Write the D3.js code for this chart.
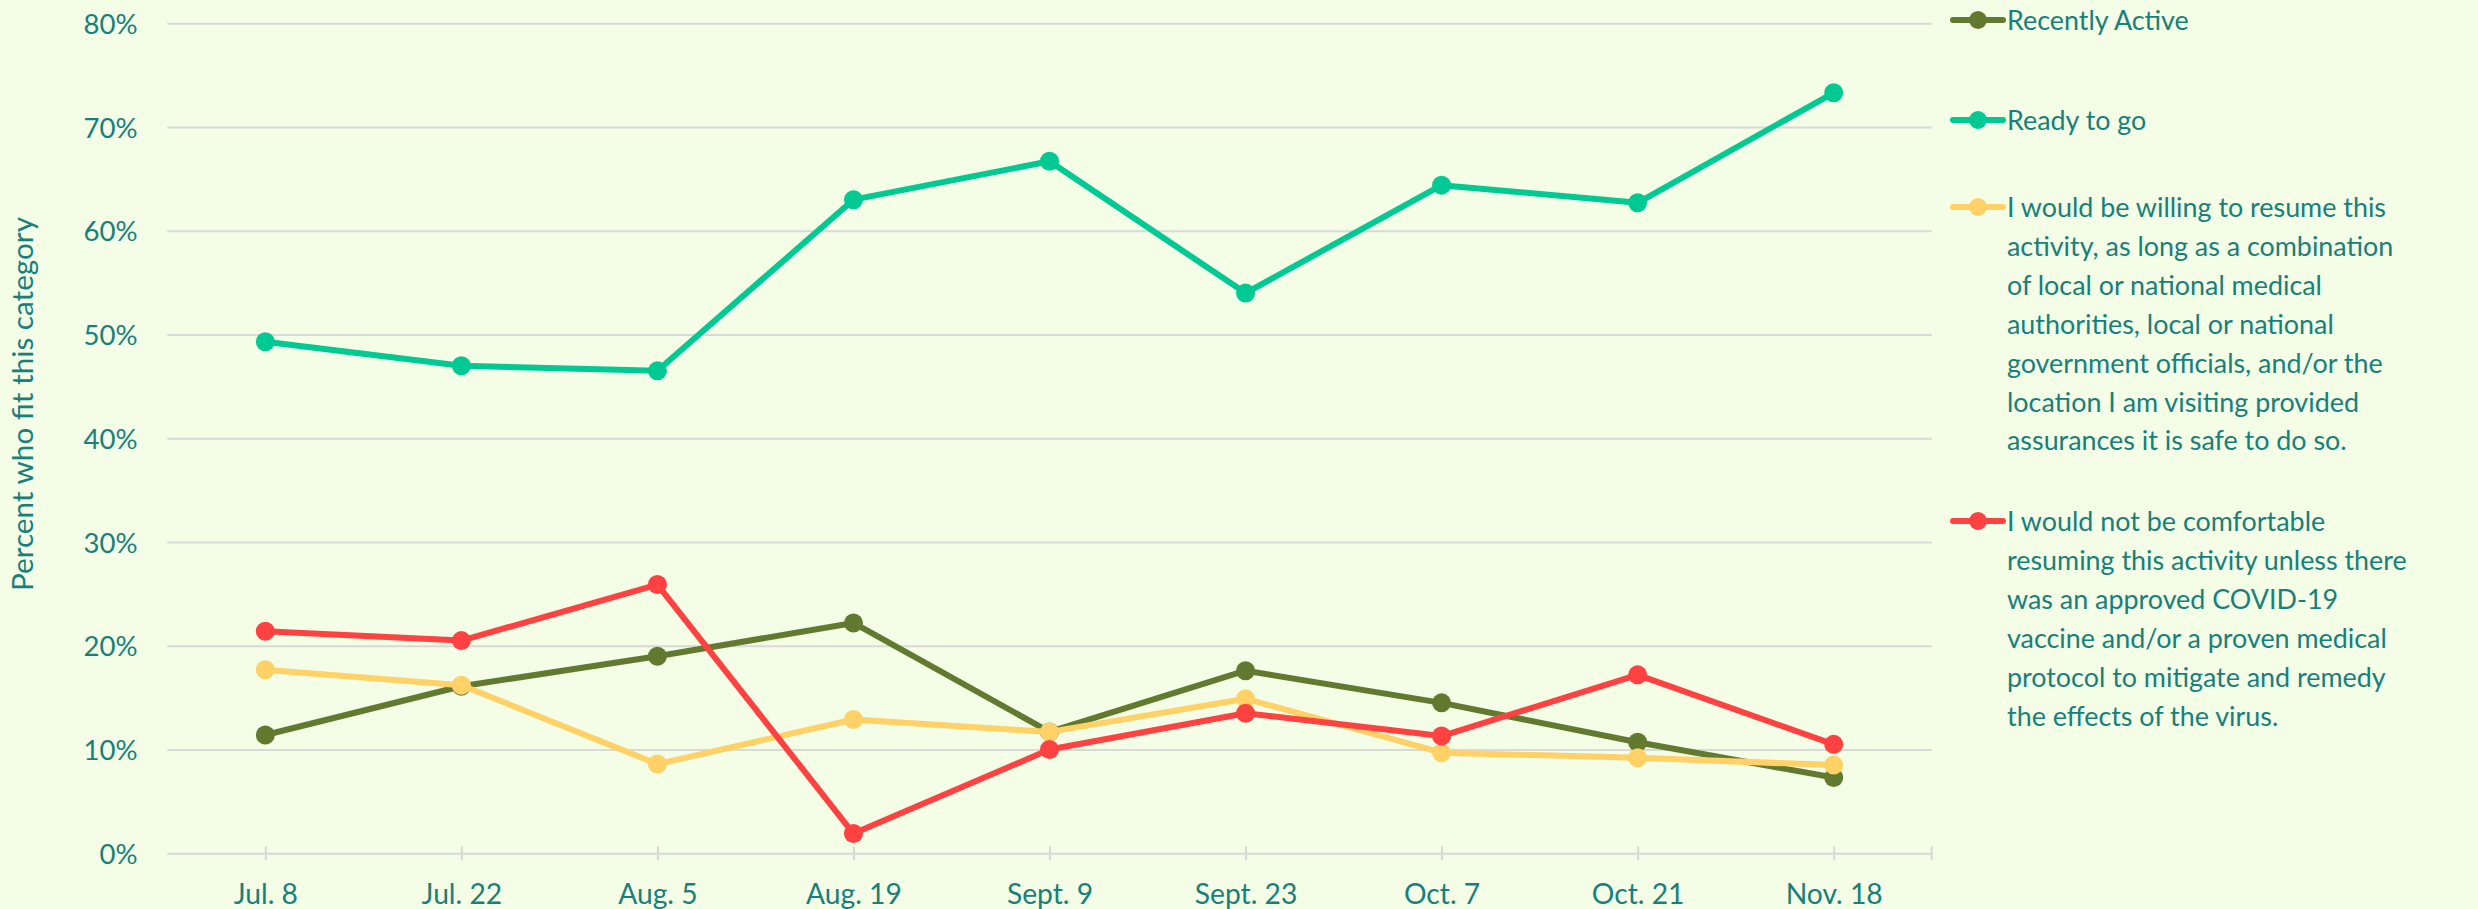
<!DOCTYPE html>
<html>
<head>
<meta charset="utf-8">
<script src="https://cdn.jsdelivr.net/npm/d3@7"></script>
<style>
  html, body { margin: 0; padding: 0; background: #f4fde5; }
  svg { display: block; }
</style>
</head>
<body>
<svg id="chart" width="2478" height="909"></svg>
<script>
// ---- data ----
const categories = ["Jul. 8", "Jul. 22", "Aug. 5", "Aug. 19", "Sept. 9", "Sept. 23", "Oct. 7", "Oct. 21", "Nov. 18"];
const recentlyActive = [11.4, 16.1, 19.0, 22.2, 11.7, 17.6, 14.5, 10.7, 7.3];
const readyToGo      = [49.3, 47.0, 46.5, 63.0, 66.7, 54.0, 64.4, 62.7, 73.3];
const willingIfSafe  = [17.7, 16.2, 8.6, 12.9, 11.7, 14.9, 9.7, 9.2, 8.5];
const notComfortable = [21.4, 20.5, 25.9, 1.9, 10.0, 13.5, 11.3, 17.2, 10.5];
const yTicks = [0, 10, 20, 30, 40, 50, 60, 70, 80];
const seriesNames = [
  "Recently Active",
  "Ready to go",
  "I would be willing to resume this activity, as long as a combination of local or national medical authorities, local or national government officials, and/or the location I am visiting provided assurances it is safe to do so.",
  "I would not be comfortable resuming this activity unless there was an approved COVID-19 vaccine and/or a proven medical protocol to mitigate and remedy the effects of the virus."
];
const legendLines = [
  ["Recently Active"],
  ["Ready to go"],
  ["I would be willing to resume this", "activity, as long as a combination", "of local or national medical", "authorities, local or national", "government officials, and/or the", "location I am visiting provided", "assurances it is safe to do so."],
  ["I would not be comfortable", "resuming this activity unless there", "was an approved COVID-19", "vaccine and/or a proven medical", "protocol to mitigate and remedy", "the effects of the virus."]
];
const seriesColors = ["#627a2f", "#00c994", "#ffd166", "#fe4242"];
const yTitle = "Percent who fit this category";

(function () {
// ---- setup ----
const FONT = "Lato, 'Open Sans', sans-serif";
const TEXT = "#17807a";
const GRID = "#d9d9d9";
const svg = d3.select("#chart");
svg.append("rect").attr("width", 2478).attr("height", 909).attr("fill", "#f4fde5");

function fitSize(str, target) {
  const t = svg.append("text").attr("font-family", FONT).attr("font-size", 100).text(str);
  const w = t.node().getComputedTextLength();
  t.remove();
  return 100 * target / w;
}
const tickFS = fitSize("80%", 54);
const xFS = fitSize("Nov. 18", 97);
const legFS = fitSize("resuming this activity unless there", 400);
const titleFS = fitSize(yTitle, 374);

const pL = 167.3, pR = 1931.7, pT = 23.3, pB = 853.3;
const x = d3.scalePoint().domain(categories).range([pL, pR]).padding(0.5);
const y = d3.scaleLinear().domain([0, 80]).range([pB, pT]);

// gridlines + y labels
const gy = svg.append("g").attr("class", "y-axis")
  .attr("transform", `translate(${pL},0)`)
  .call(d3.axisLeft(y).tickValues(yTicks).tickFormat(d => d + "%").tickSize(-(pR - pL)).tickPadding(30));
gy.select(".domain").remove();
gy.selectAll(".tick line").attr("stroke", GRID).attr("stroke-width", 2);
gy.selectAll(".tick text")
  .attr("fill", TEXT).attr("font-family", FONT).attr("font-size", tickFS)
  .attr("x", 137.5 - pL).attr("dy", null).attr("y", 10)
  .attr("text-anchor", "end");

// x axis
const gx = svg.append("g").attr("class", "x-axis")
  .attr("transform", `translate(0,${pB})`)
  .call(d3.axisBottom(x).tickSize(7).tickPadding(0));
gx.select(".domain").remove();
gx.selectAll(".tick line").attr("stroke", GRID).attr("stroke-width", 2).attr("y1", -7).attr("y2", 7);
gx.selectAll(".tick text")
  .attr("fill", TEXT).attr("font-family", FONT).attr("font-size", xFS)
  .attr("y", 904 - pB).attr("dy", null);
gx.append("line").attr("x1", pR).attr("x2", pR).attr("y1", -7).attr("y2", 7)
  .attr("stroke", GRID).attr("stroke-width", 2);

// y title
svg.append("text")
  .attr("transform", "translate(32.5,404) rotate(-90)")
  .attr("text-anchor", "middle")
  .attr("fill", TEXT).attr("font-family", FONT).attr("font-size", titleFS)
  .text(yTitle);

// series
const allSeries = [recentlyActive, readyToGo, willingIfSafe, notComfortable];
const line = d3.line().x((d, i) => x(categories[i])).y(d => y(d));
allSeries.forEach((vals, si) => {
  const g = svg.append("g").attr("class", "series");
  g.append("path").datum(vals).attr("d", line)
    .attr("fill", "none").attr("stroke", seriesColors[si]).attr("stroke-width", 6)
    .attr("stroke-linejoin", "round");
  g.selectAll("circle").data(vals).join("circle")
    .attr("cx", (d, i) => x(categories[i])).attr("cy", d => y(d)).attr("r", 9.5)
    .attr("fill", seriesColors[si]);
});

// legend
const legendY = [20, 120, 207, 521];
const lineH = 38.9;
legendLines.forEach((lines, li) => {
  const g = svg.append("g").attr("class", "legend-item").attr("transform", `translate(0,${legendY[li]})`);
  g.append("line").attr("x1", 1953).attr("x2", 2003).attr("y1", 0).attr("y2", 0)
    .attr("stroke", seriesColors[li]).attr("stroke-width", 6).attr("stroke-linecap", "round");
  g.append("circle").attr("cx", 1978).attr("cy", 0).attr("r", 9).attr("fill", seriesColors[li]);
  const t = g.append("text").attr("fill", TEXT).attr("font-family", FONT).attr("font-size", legFS);
  t.append("title").text(seriesNames[li]);
  lines.forEach((s, k) => {
    t.append("tspan").attr("x", 2007).attr("y", 10 + k * lineH).text(s);
  });
});
})();
</script>
</body>
</html>
